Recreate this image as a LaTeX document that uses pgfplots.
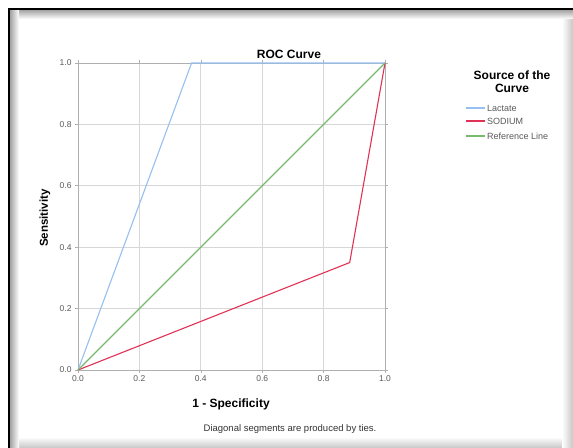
\documentclass[border=0pt]{standalone}
\usepackage{pgfplots}
\pgfplotsset{compat=1.18}
\usepackage{fontspec}
\setmainfont{Liberation Sans}
\definecolor{lactate}{RGB}{150,192,240}
\definecolor{sodium}{RGB}{225,50,85}
\definecolor{refline}{RGB}{120,185,110}
\definecolor{gridc}{RGB}{215,215,215}
\definecolor{axc}{RGB}{175,175,175}
\definecolor{tickc}{RGB}{90,90,90}
\begin{document}
\begin{tikzpicture}[x=1bp,y=1bp]
\useasboundingbox (0,0) rectangle (573,448);
\fill[white] (0,0) rectangle (573,448);
% inner shadow of the frame
\shade[top color=white, bottom color=black!22] (9,0) rectangle (573,11);
\shade[left color=white, right color=black!22] (562,0) rectangle (573,439);
\shade[top color=black!40, bottom color=white] (9,429) rectangle (573,439);
\shade[left color=black!40, right color=white] (9,0) rectangle (19,439);
\draw[black, line width=2.5bp] (9,0) -- (9,439) -- (573,439);
\begin{axis}[
  at={(78bp,78bp)}, anchor=south west,
  scale only axis, width=307bp, height=307bp,
  xmin=0, xmax=1, ymin=0, ymax=1,
  xtick={0,0.2,0.4,0.6,0.8,1}, ytick={0,0.2,0.4,0.6,0.8,1},
  xticklabels={0.0,0.2,0.4,0.6,0.8,1.0},
  yticklabels={0.0,0.2,0.4,0.6,0.8,1.0},
  /pgf/number format/assume math mode=true,
  tick label style={font=\fontsize{8.5bp}{10bp}\selectfont, text=tickc},
  xticklabel style={yshift=1bp},
  tick align=outside, major tick length=3bp,
  tick style={axc, line width=0.6bp},
  axis line style={axc, line width=0.8bp},
  grid=major, grid style={gridc, line width=0.8bp},
  clip=false,
]
\addplot[lactate, line width=1.1bp] coordinates {(0,0) (0.37,1.0) (1,1)};
\addplot[sodium, line width=1.1bp] coordinates {(0,0) (0.885,0.35) (1,1)};
\addplot[refline, line width=1.1bp] coordinates {(0,0) (1,1)};
\end{axis}
% title and labels (pixel coords: x, 448-y)
\node[font=\fontsize{12bp}{14bp}\selectfont\bfseries] at (289,394) {ROC Curve};
\node[font=\fontsize{12bp}{14bp}\selectfont\bfseries] at (231,44) {1 - Specificity};
\node[font=\fontsize{11.5bp}{14bp}\selectfont\bfseries, rotate=90] at (45,230) {Sensitivity};
\node[font=\fontsize{9.5bp}{11bp}\selectfont, text=black!80] at (290,19) {Diagonal segments are produced by ties.};
% legend
\node[font=\fontsize{12bp}{13bp}\selectfont\bfseries, align=center] at (512,366) {Source of the\\Curve};
\draw[lactate, line width=1.1bp] (466,340) -- (485,340);
\draw[sodium, line width=1.1bp] (466,327) -- (485,327);
\draw[refline, line width=1.1bp] (466,312) -- (485,312);
\node[anchor=west, inner sep=1bp, text=tickc, font=\fontsize{9bp}{10bp}\selectfont] at (486,340) {Lactate};
\node[anchor=west, inner sep=1bp, text=tickc, font=\fontsize{9bp}{10bp}\selectfont] at (486,327) {SODIUM};
\node[anchor=west, inner sep=1bp, text=tickc, font=\fontsize{9bp}{10bp}\selectfont] at (486,312) {Reference Line};
\end{tikzpicture}
\end{document}
